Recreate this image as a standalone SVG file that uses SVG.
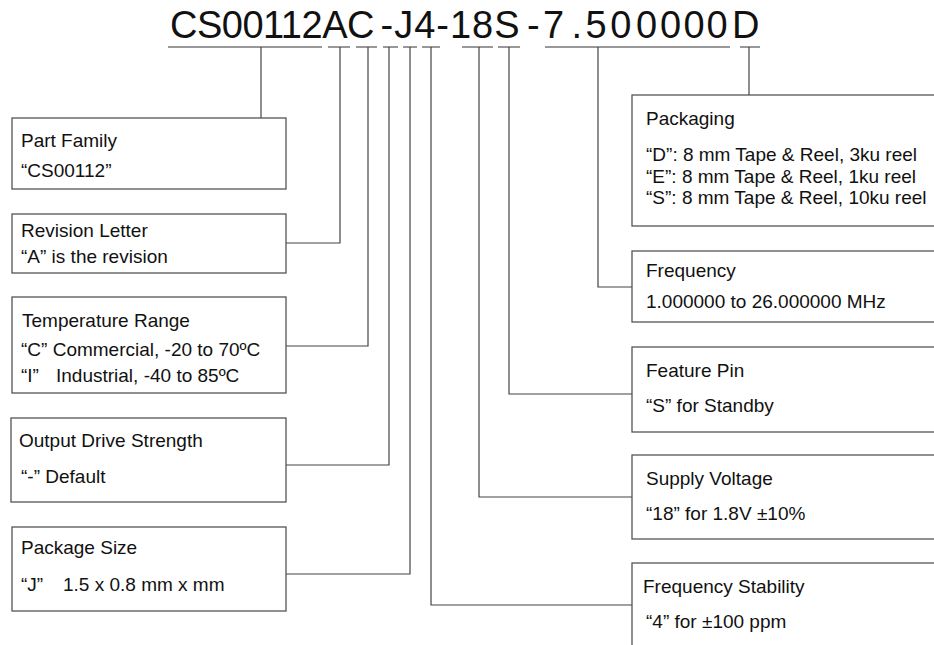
<svg xmlns="http://www.w3.org/2000/svg" width="934" height="645" viewBox="0 0 934 645">
<style>
.t{font-family:"Liberation Sans",Arial,sans-serif;font-size:19px;fill:#111}
.title{font-family:"Liberation Sans",Arial,sans-serif;font-size:38px;fill:#111}
.box{fill:#fff;stroke:#555;stroke-width:1.3}
.c{fill:none;stroke:#444;stroke-width:1.2}
.u{fill:none;stroke:#777;stroke-width:1.5}
</style>
<rect width="934" height="645" fill="#fff"/>
<g id="title">
<text class="title" x="170" y="38" style="letter-spacing:-0.5px">CS00112AC</text>
<text class="title" x="380.5" y="38" style="letter-spacing:1px">-J4-18S</text>
<text class="title" y="38"><tspan x="527">-</tspan><tspan x="543">7</tspan><tspan x="571.5">.</tspan><tspan x="585.4">5</tspan><tspan x="610.2">0</tspan><tspan x="636">0</tspan><tspan x="660">0</tspan><tspan x="683.4">0</tspan><tspan x="706.4">0</tspan><tspan x="732">D</tspan></text>
</g>
<g id="underlines">
<path class="u" d="M168,47H322M328,47H350M356,47H377M383,47H398M403,47H417M422,47H440M462,47H493M498,47H520M545,47H730M740,47H760"/>
</g>
<g id="connectors">
<path class="c" d="M261,47V118"/>
<path class="c" d="M340,47V243H286"/>
<path class="c" d="M368,47V346H286"/>
<path class="c" d="M389,47V465H286"/>
<path class="c" d="M410,47V574H286"/>
<path class="c" d="M431,47V605H632"/>
<path class="c" d="M479,47V497H632"/>
<path class="c" d="M509,47V394H632"/>
<path class="c" d="M598,47V287H632"/>
<path class="c" d="M749,47V95"/>
</g>
<g id="part-family">
<rect class="box" x="12" y="118" width="274" height="71"/>
<text class="t" x="21" y="147">Part Family</text>
<text class="t" x="21" y="177">“CS00112”</text>
</g>
<g id="revision-letter">
<rect class="box" x="12" y="214" width="274" height="59"/>
<text class="t" x="21" y="237">Revision Letter</text>
<text class="t" x="21" y="263">“A” is the revision</text>
</g>
<g id="temperature-range">
<rect class="box" x="12" y="297" width="274" height="96"/>
<text class="t" x="22" y="327">Temperature Range</text>
<text class="t" x="21" y="356">“C” Commercial, -20 to 70ºC</text>
<text class="t" y="382"><tspan x="21">“I”</tspan><tspan x="56">Industrial, -40 to 85ºC</tspan></text>
</g>
<g id="output-drive-strength">
<rect class="box" x="11" y="418" width="275" height="84"/>
<text class="t" x="19" y="447">Output Drive Strength</text>
<text class="t" x="21" y="483">“-” Default</text>
</g>
<g id="package-size">
<rect class="box" x="12" y="527" width="274" height="84"/>
<text class="t" x="21" y="554">Package Size</text>
<text class="t" y="591"><tspan x="21">“J”</tspan><tspan x="63">1.5 x 0.8 mm x mm</tspan></text>
</g>
<g id="packaging">
<rect class="box" x="632" y="95" width="320" height="131"/>
<text class="t" x="646" y="125">Packaging</text>
<text class="t" x="646" y="161">“D”: 8 mm Tape &amp; Reel, 3ku reel</text>
<text class="t" x="646" y="183">“E”: 8 mm Tape &amp; Reel, 1ku reel</text>
<text class="t" x="646" y="204">“S”: 8 mm Tape &amp; Reel, 10ku reel</text>
</g>
<g id="frequency">
<rect class="box" x="632" y="251" width="320" height="71"/>
<text class="t" x="646" y="277">Frequency</text>
<text class="t" x="646" y="308">1.000000 to 26.000000 MHz</text>
</g>
<g id="feature-pin">
<rect class="box" x="632" y="347" width="320" height="85"/>
<text class="t" x="646" y="377">Feature Pin</text>
<text class="t" x="646" y="412">“S” for Standby</text>
</g>
<g id="supply-voltage">
<rect class="box" x="632" y="455" width="320" height="84"/>
<text class="t" x="646" y="485">Supply Voltage</text>
<text class="t" x="646" y="520">“18” for 1.8V ±10%</text>
</g>
<g id="frequency-stability">
<rect class="box" x="632" y="563" width="320" height="100"/>
<text class="t" x="643" y="593">Frequency Stability</text>
<text class="t" x="646" y="628">“4” for ±100 ppm</text>
</g>
</svg>
